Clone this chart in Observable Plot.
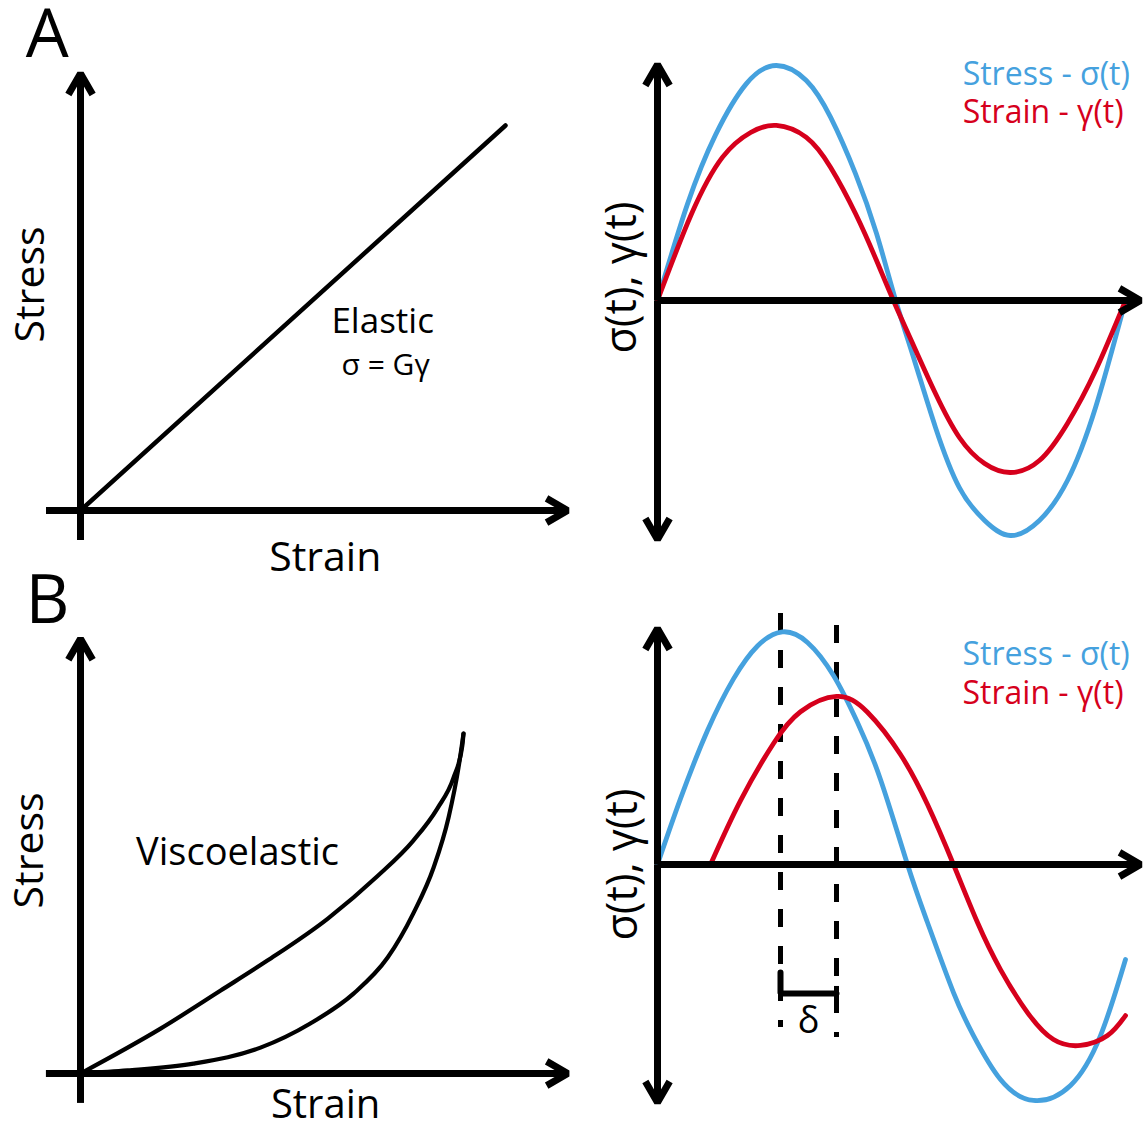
<!DOCTYPE html>
<html>
<head>
<meta charset="utf-8">
<script src="https://cdn.jsdelivr.net/npm/d3@7"></script>
<script src="https://cdn.jsdelivr.net/npm/@observablehq/plot@0.6"></script>
<style>
  html, body { margin: 0; padding: 0; background: #fff; }
  #fig { position: relative; width: 1147px; height: 1130px; overflow: hidden; font-family: "Open Sans", sans-serif; }
  .panel { position: absolute; }
  .panel svg { overflow: visible; }
</style>
</head>
<body>
<div id="fig">
  <div class="panel" id="aLeft" style="left:0;top:0;"></div>
  <div class="panel" id="aRight" style="left:600px;top:0;"></div>
  <div class="panel" id="bLeft" style="left:0;top:580px;"></div>
  <div class="panel" id="bRight" style="left:600px;top:580px;"></div>
</div>
<script>
// ---------- DATA ----------
// Panel A, left: elastic stress-strain (strain, stress)
const elasticStrain = [0, 1];
const elasticStress = [0, 1];

// Panel B, left: viscoelastic hysteresis loop
const loadStrain   = [0, 0.209, 0.366, 0.488, 0.645, 0.775, 0.869, 0.932, 0.974, 0.997, 1];
const loadStress   = [0, 0.132, 0.244, 0.332, 0.455, 0.580, 0.685, 0.780, 0.870, 0.965, 1];
const unloadStrain = [0, 0.123, 0.295, 0.470, 0.600, 0.713, 0.802, 0.869, 0.922, 0.961, 0.987, 1];
const unloadStress = [0, 0.009, 0.029, 0.076, 0.147, 0.235, 0.341, 0.471, 0.606, 0.753, 0.900, 1];

// Panel A, right: in-phase stress and strain over one period (t in periods)
const aTime   = [0, 0.064, 0.124, 0.190, 0.254, 0.318, 0.370, 0.423, 0.468, 0.509, 0.549, 0.594, 0.645, 0.699, 0.754, 0.816, 0.876, 0.936, 1.0];
const aStress = [0, 0.410, 0.705, 0.923, 1.0, 0.936, 0.779, 0.540, 0.285, 0, -0.255, -0.540, -0.796, -0.936, -1.0, -0.936, -0.766, -0.455, 0];
const aStrainT = [0, 0.073, 0.139, 0.199, 0.254, 0.318, 0.370, 0.423, 0.468, 0.504, 0.549, 0.594, 0.645, 0.699, 0.754, 0.816, 0.876, 0.936, 1.0];
const aStrain  = [0, 0.370, 0.610, 0.715, 0.745, 0.694, 0.566, 0.370, 0.170, 0, -0.200, -0.396, -0.583, -0.694, -0.732, -0.681, -0.523, -0.298, 0];

// Panel B, right: stress leads strain by phase lag delta
const bStressT = [0, 0.046, 0.100, 0.152, 0.200, 0.250, 0.300, 0.352, 0.400, 0.446, 0.500, 0.540, 0.592, 0.632, 0.686, 0.752, 0.826, 0.886, 0.936];
const bStress  = [0, 0.280, 0.570, 0.790, 0.930, 0.990, 0.945, 0.804, 0.604, 0.362, 0, -0.247, -0.545, -0.728, -0.915, -1.004, -0.940, -0.728, -0.404];
const bStrainT = [0.106, 0.166, 0.232, 0.286, 0.358, 0.420, 0.486, 0.540, 0.592, 0.640, 0.686, 0.740, 0.792, 0.846, 0.900, 0.936];
const bStrain  = [0, 0.272, 0.515, 0.650, 0.715, 0.648, 0.468, 0.255, 0, -0.247, -0.447, -0.630, -0.745, -0.770, -0.728, -0.643];
const peakTimes = [0.246, 0.358];      // stress peak, strain peak
const legendLabels = ["Stress - σ(t)", "Strain - γ(t)"];

// ---------- STYLE ----------
const BLUE = "#45a1de", RED = "#d6001c", FONT = "Open Sans";
const AX = {stroke: "black", strokeWidth: 7, headLength: 5.2, headAngle: 60, strokeLinejoin: "miter", strokeLinecap: "butt"};

const zip = (xs, ys) => xs.map((x, i) => ({x, y: ys[i]}));
const txt = (s, o) => Plot.text([s], {text: d => d, fontFamily: FONT, fill: "black", lineAnchor: "bottom", ...o});

function base(w, h, xd, xr, yd, yr, marks) {
  return Plot.plot({
    width: w, height: h, margin: 0,
    x: {axis: null, domain: xd, range: xr},
    y: {axis: null, domain: yd, range: yr},
    style: {fontFamily: FONT, background: "transparent", overflow: "visible"},
    marks
  });
}

// Panel A left
document.getElementById("aLeft").append(base(600, 580, [0, 1], [80, 505], [0, 1], [510, 125], [
  Plot.ruleY([0], {x1: -0.08, x2: 0, stroke: "black", strokeWidth: 7}),
  Plot.ruleX([0], {y1: -0.078, y2: 0, stroke: "black", strokeWidth: 7}),
  Plot.arrow([0], {x1: 0, y1: 0, x2: 1.146, y2: 0, ...AX}),
  Plot.arrow([0], {x1: 0, y1: 0, x2: 0, y2: 1.135, ...AX}),
  Plot.line(zip(elasticStrain, elasticStress), {x: "x", y: "y", stroke: "black", strokeWidth: 4.5}),
  txt("A", {x: -0.078, y: 1.177, fontSize: 68}),
  txt("Stress", {x: -0.087, y: 0.587, rotate: -90, fontSize: 41}),
  txt("Strain", {x: 0.576, y: -0.156, fontSize: 41}),
  txt("Elastic", {x: 0.711, y: 0.462, fontSize: 35}),
  txt("σ = Gγ", {x: 0.718, y: 0.353, fontSize: 30})
]));

// Panel B left
document.getElementById("bLeft").append(base(600, 550, [0, 1], [80, 463], [0, 1], [493, 153], [
  Plot.ruleY([0], {x1: -0.089, x2: 0, stroke: "black", strokeWidth: 7}),
  Plot.ruleX([0], {y1: -0.088, y2: 0, stroke: "black", strokeWidth: 7}),
  Plot.arrow([0], {x1: 0, y1: 0, x2: 1.272, y2: 0, ...AX}),
  Plot.arrow([0], {x1: 0, y1: 0, x2: 0, y2: 1.279, ...AX}),
  Plot.line(zip(loadStrain, loadStress), {x: "x", y: "y", stroke: "black", strokeWidth: 4.2, curve: "monotone-x"}),
  Plot.line(zip(unloadStrain, unloadStress), {x: "x", y: "y", stroke: "black", strokeWidth: 4.2, curve: "monotone-x"}),
  txt("B", {x: -0.086, y: 1.326, fontSize: 68}),
  txt("Stress", {x: -0.097, y: 0.656, rotate: -90, fontSize: 41}),
  txt("Strain", {x: 0.64, y: -0.132, fontSize: 40}),
  txt("Viscoelastic", {x: 0.41, y: 0.612, fontSize: 38})
]));

// Panel A right
document.getElementById("aRight").append(base(547, 580, [0, 1], [57, 525], [-1, 1], [535, 65], [
  Plot.line(zip(aTime, aStress), {x: "x", y: "y", stroke: BLUE, strokeWidth: 4.8, curve: "natural"}),
  Plot.line(zip(aStrainT, aStrain), {x: "x", y: "y", stroke: RED, strokeWidth: 4.8, curve: "natural"}),
  Plot.arrow([0], {x1: 0, y1: 0, x2: 1.032, y2: 0, ...AX}),
  Plot.arrow([0], {x1: 0, y1: 0, x2: 0, y2: 1.004, ...AX}),
  Plot.arrow([0], {x1: 0, y1: 0, x2: 0, y2: -1.017, ...AX}),
  txt("σ(t), γ(t)", {x: -0.045, y: 0.098, rotate: -90, fontSize: 43}),
  txt(legendLabels[0], {x: 0.652, y: 0.919, textAnchor: "start", fontSize: 32, fill: BLUE}),
  txt(legendLabels[1], {x: 0.652, y: 0.757, textAnchor: "start", fontSize: 32, fill: RED})
]));

// Panel B right
const [tS, tG] = peakTimes;
document.getElementById("bRight").append(base(547, 550, [0, 1], [57, 557], [-1, 1], [519, 49], [
  Plot.ruleX([tS], {y1: 1.068, y2: -0.694, stroke: "black", strokeWidth: 5, strokeDasharray: "18,19"}),
  Plot.ruleX([tG], {y1: 1.017, y2: -0.736, stroke: "black", strokeWidth: 5, strokeDasharray: "18,19"}),
  Plot.line(zip(bStressT, bStress), {x: "x", y: "y", stroke: BLUE, strokeWidth: 4.8, curve: "natural"}),
  Plot.line(zip(bStrainT, bStrain), {x: "x", y: "y", stroke: RED, strokeWidth: 4.8, curve: "natural"}),
  Plot.arrow([0], {x1: 0, y1: 0, x2: 0.966, y2: 0, ...AX}),
  Plot.arrow([0], {x1: 0, y1: 0, x2: 0, y2: 1.004, ...AX}),
  Plot.arrow([0], {x1: 0, y1: 0, x2: 0, y2: -1.013, ...AX}),
  // phase-lag bracket
  Plot.line([{x: tS, y: -0.46}, {x: tS, y: -0.549}, {x: tG, y: -0.549}], {x: "x", y: "y", stroke: "black", strokeWidth: 6, strokeLinejoin: "miter"}),
  Plot.ruleX([tG], {y1: -0.519, y2: -0.574, stroke: "black", strokeWidth: 5}),
  txt("δ", {x: (tS + tG) / 2, y: -0.715, fontSize: 36}),
  txt("σ(t), γ(t)", {x: -0.042, y: 0.0, rotate: -90, fontSize: 43}),
  txt(legendLabels[0], {x: 0.61, y: 0.851, textAnchor: "start", fontSize: 32, fill: BLUE}),
  txt(legendLabels[1], {x: 0.61, y: 0.685, textAnchor: "start", fontSize: 32, fill: RED})
]));
</script>
</body>
</html>
